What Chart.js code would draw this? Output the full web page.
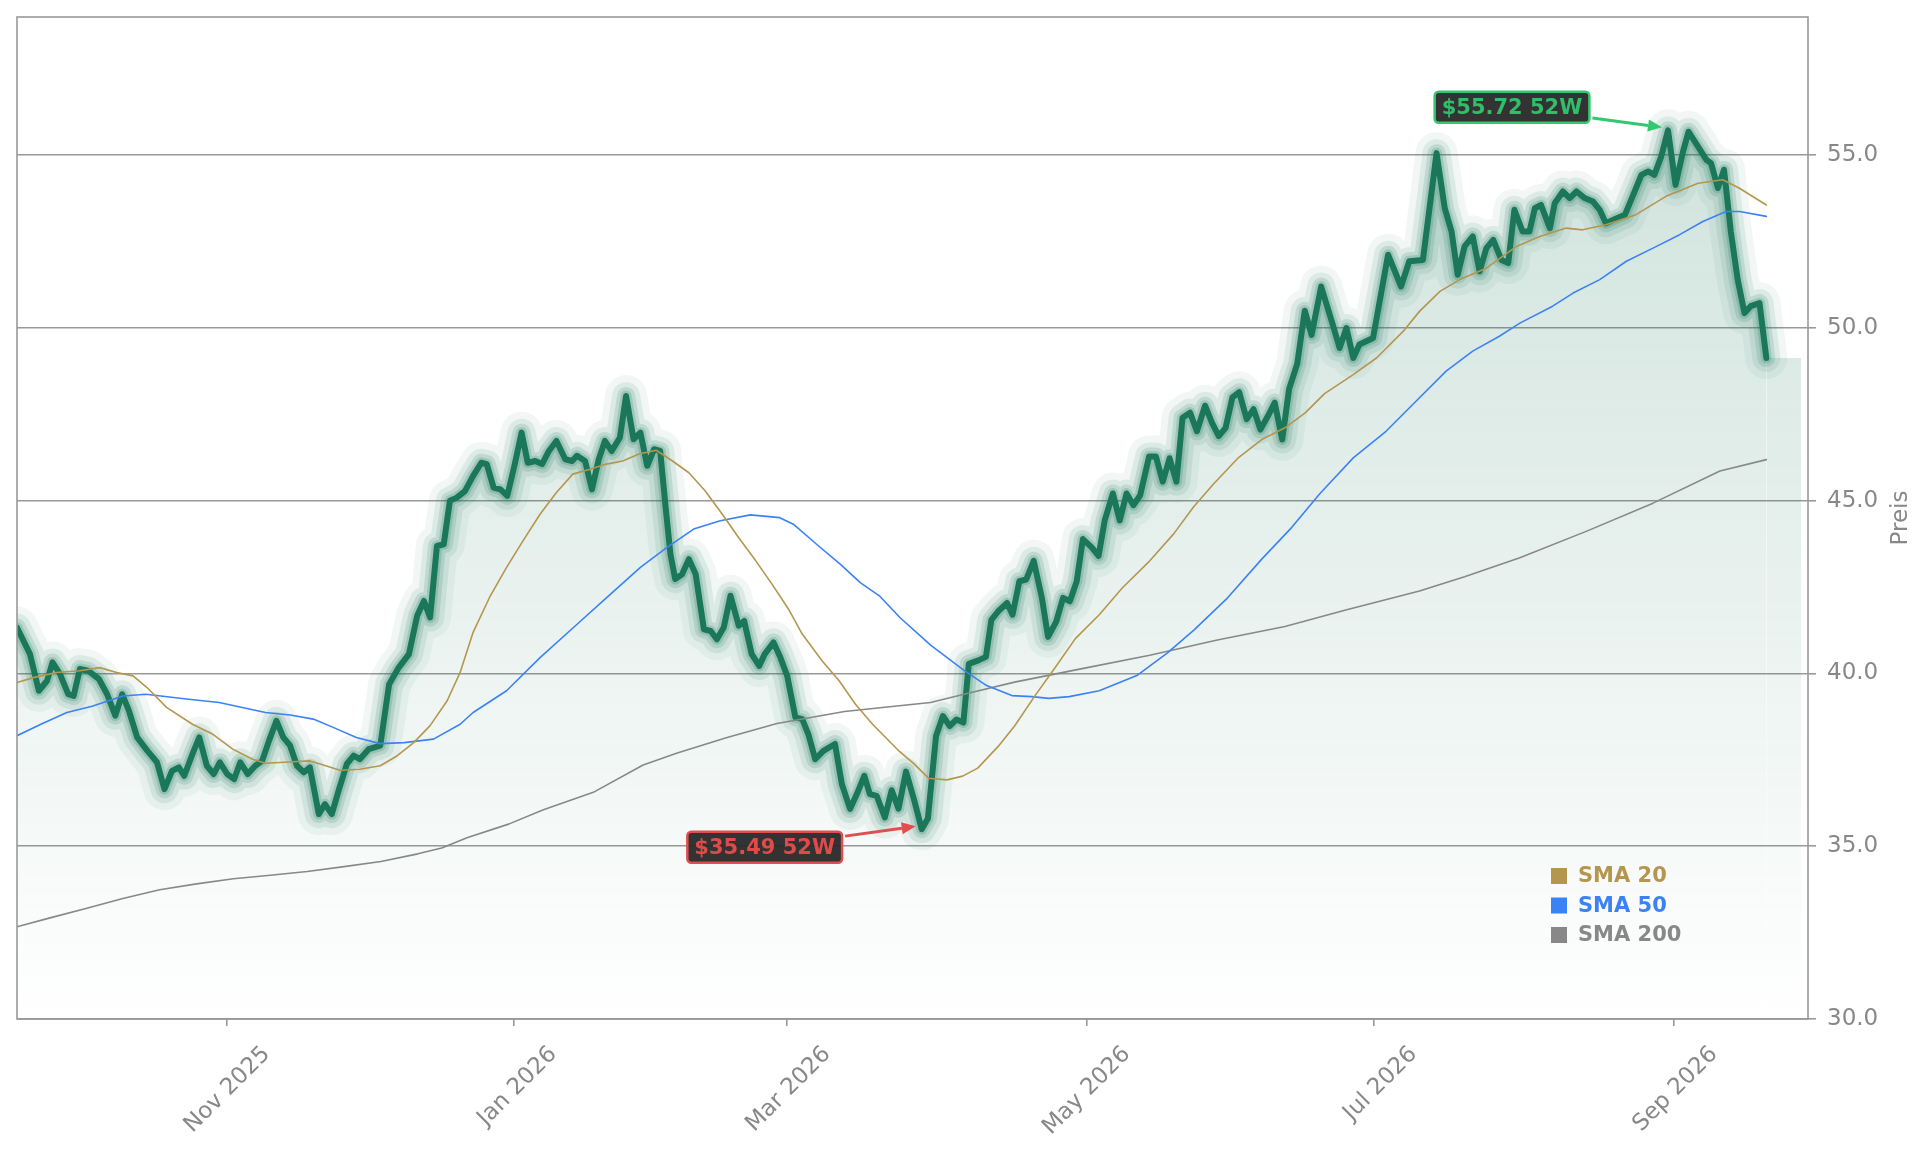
<!DOCTYPE html>
<html lang="de">
<head>
<meta charset="utf-8">
<title>Kursverlauf mit SMA</title>
<script src="https://cdn.jsdelivr.net/npm/chart.js@4.4.1/dist/chart.umd.min.js"></script>
<style>
  html, body { margin: 0; padding: 0; background: #ffffff; }
  #price-chart { display: block; }
</style>
</head>
<body>
<canvas id="price-chart" width="1929" height="1153"></canvas>
<script>
/* ============================================
   Price chart — close, SMA 20 / 50 / 200, 52W high & low
   x values are trading-day positions from the first close
   ============================================ */

// Close prices
const priceDays = [
  0, 1.9, 3.2, 4.4, 5.2, 6.3, 7.5, 8.3, 9.2, 10.4, 12.0, 13.2, 14.4, 15.4, 16.4, 17.6, 19.1, 20.5, 21.6, 22.7,
  23.7, 24.5, 25.6, 26.7, 27.8, 28.8, 29.7, 30.8, 31.8, 32.7, 33.8, 34.9, 35.9, 36.9, 38.0, 39.0, 40.0, 41.0, 42.0, 42.9,
  44.2, 45.1, 46.1, 47.1, 48.3, 49.3, 50.2, 51.5, 53.2, 54.5, 55.9, 57.4, 58.6, 59.6, 60.5, 61.5, 62.5, 63.4, 64.4, 65.6,
  66.8, 68.0, 68.8, 69.8, 70.8, 71.8, 72.9, 73.9, 74.8, 75.9, 76.9, 77.9, 79.0, 80.3, 81.3, 82.0, 83.2, 84.2, 85.2, 86.1,
  87.1, 88.3, 89.2, 90.3, 91.3, 92.3, 93.3, 94.2, 95.0, 95.7, 96.4, 97.4, 98.4, 99.4, 100.6, 101.6, 102.5, 103.5, 104.5, 105.7,
  106.5, 107.6, 108.7, 109.5, 110.8, 111.8, 112.8, 114.0, 115.0, 115.9, 116.9, 118.1, 119.8, 120.8, 122.0, 123.0, 124.1, 124.9, 125.9, 127.1,
  128.1, 129.1, 130.2, 131.4, 132.5, 133.4, 134.6, 135.6, 136.6, 137.6, 138.6, 139.4, 140.8, 141.9, 142.7, 143.7, 145.0, 145.8, 146.8, 147.8,
  148.9, 150.1, 151.0, 152.2, 153.2, 154.2, 155.2, 156.1, 157.4, 158.4, 159.3, 160.5, 161.5, 162.5, 163.5, 164.5, 165.8, 166.8, 167.8, 168.8,
  169.8, 170.7, 171.8, 172.8, 174.0, 175.0, 176.0, 177.0, 178.0, 179.0, 180.1, 181.1, 182.1, 183.2, 184.2, 185.3, 186.3, 187.5, 188.6, 189.6,
  191.0, 192.7, 193.7, 194.7, 195.7, 196.6, 198.6, 200.8, 202.7, 203.9, 205.9, 207.9, 209.1, 210.1, 211.0, 212.0, 213.2, 214.2, 215.2, 216.2,
  217.4, 218.4, 219.3, 220.5, 221.5, 222.3, 223.2, 224.5, 225.2, 226.4, 227.4, 228.4, 229.6, 230.8, 231.8, 232.7, 233.8, 235.5, 236.7, 237.9,
  238.9, 239.8, 240.8, 241.8, 242.9, 244.0, 244.8, 246.2, 247.4, 248.1, 249.1, 250.0, 251.0, 252.0, 253.0, 253.9, 255.2, 256.2
];
const closePrices = [
  41.33, 40.56, 39.5, 39.79, 40.32, 39.98, 39.4, 39.35, 40.13, 40.08, 39.84, 39.4, 38.78, 39.4, 38.92, 38.15, 37.76, 37.43, 36.65, 37.18,
  37.28, 37.04, 37.62, 38.15, 37.33, 37.09, 37.43, 37.09, 36.94, 37.43, 37.09, 37.33, 37.47, 38.05, 38.63, 38.15, 37.91, 37.33, 37.14, 37.28,
  35.93, 36.22, 35.93, 36.61, 37.38, 37.62, 37.52, 37.81, 37.91, 39.69, 40.17, 40.56, 41.67, 42.10, 41.62, 43.69, 43.74, 45.0, 45.09, 45.28,
  45.72, 46.10, 46.06, 45.38, 45.33, 45.14, 46.06, 46.97, 46.10, 46.15, 46.06, 46.44, 46.73, 46.20, 46.15, 46.30, 46.15, 45.33, 46.20, 46.73,
  46.44, 46.83, 48.03, 46.78, 46.97, 46.01, 46.49, 46.44, 44.80, 43.45, 42.73, 42.87, 43.31, 42.87, 41.28, 41.23, 40.99, 41.33, 42.25, 41.38,
  41.52, 40.56, 40.22, 40.56, 40.90, 40.46, 39.93, 38.73, 38.68, 38.24, 37.52, 37.76, 37.96, 36.80, 36.08, 36.51, 37.04, 36.51, 36.46, 35.83,
  36.62, 36.09, 37.16, 36.33, 35.49, 35.80, 38.19, 38.77, 38.48, 38.67, 38.58, 40.28, 40.38, 40.48, 41.55, 41.80, 42.04, 41.70, 42.67, 42.72,
  43.26, 42.19, 41.06, 41.50, 42.19, 42.09, 42.67, 43.89, 43.65, 43.40, 44.43, 45.21, 44.43, 45.21, 44.87, 45.16, 46.28, 46.28, 45.55, 46.23,
  45.55, 47.40, 47.55, 47.01, 47.75, 47.26, 46.87, 47.11, 47.99, 48.14, 47.36, 47.65, 47.06, 47.45, 47.84, 46.77, 48.23, 48.97, 50.5, 49.8,
  51.2, 50.10, 49.42, 50.0, 49.13, 49.52, 49.71, 52.12, 51.20, 51.93, 51.97, 55.06, 53.47, 52.79, 51.54, 52.36, 52.65, 51.64, 52.31, 52.55,
  51.97, 51.88, 53.42, 52.79, 52.79, 53.47, 53.56, 52.89, 53.61, 53.95, 53.76, 53.95, 53.76, 53.66, 53.42, 53.03, 53.13, 53.28, 53.85, 54.43,
  54.53, 54.43, 54.96, 55.72, 54.14, 55.11, 55.68, 55.25, 54.87, 54.77, 54.05, 54.58, 52.79, 51.40, 50.43, 50.63, 50.72, 49.13
];

// Moving averages
const sma20Days = [
  0, 2.4, 5.8, 9.2, 12.1, 14.6, 17.0, 19.0, 21.9, 25.7, 28.7, 31.6, 34.5, 36.4, 39.8, 42.9, 44.4, 47.3, 50.2, 53.2,
  55.7, 58.1, 60.5, 63.0, 64.9, 66.8, 69.2, 71.7, 74.1, 76.6, 79.0, 81.4, 83.9, 86.3, 88.7, 91.1, 93.6, 96.0, 98.4, 100.8,
  103.3, 105.7, 108.2, 110.6, 113.0, 115.0, 117.9, 120.4, 122.8, 125.3, 129.2, 131.3, 133.5, 136.2, 138.5, 140.7, 143.7, 146.1, 149.1, 152.1,
  155.0, 158.5, 161.9, 165.9, 169.4, 172.3, 175.3, 178.8, 182.3, 185.7, 188.7, 191.5, 195.7, 199.1, 203.0, 205.4, 208.4, 211.3, 215.2, 219.6,
  223.0, 226.9, 229.3, 232.7, 237.1, 241.5, 246.2, 249.8, 252.2, 256.2
];
const sma20Values = [
  39.74, 39.88, 40.03, 40.08, 40.17, 40.03, 39.93, 39.6, 39.02, 38.53, 38.24, 37.81, 37.52, 37.40, 37.44, 37.47, 37.38, 37.20, 37.23, 37.33,
  37.62, 38.0, 38.49, 39.21, 40.03, 41.19, 42.2, 43.07, 43.84, 44.61, 45.24, 45.77, 45.91, 46.06, 46.15, 46.35, 46.46, 46.15, 45.81, 45.28,
  44.61, 43.93, 43.26, 42.58, 41.86, 41.14, 40.37, 39.79, 39.11, 38.53, 37.75, 37.40, 36.97, 36.92, 37.03, 37.26, 37.89, 38.48, 39.36, 40.19,
  41.01, 41.70, 42.48, 43.26, 44.04, 44.82, 45.50, 46.23, 46.77, 47.11, 47.55, 48.1, 48.65, 49.13, 49.90, 50.48, 51.06, 51.40, 51.73, 52.36,
  52.65, 52.89, 52.84, 52.99, 53.28, 53.81, 54.19, 54.29, 54.05, 53.56
];
const sma50Days = [
  0, 3.5, 7.3, 11.0, 15.5, 18.9, 24.8, 29.6, 36.4, 40.0, 43.4, 46.3, 49.7, 53.2, 56.7, 61.0, 64.9, 66.8, 71.7, 76.6,
  81.5, 86.4, 91.3, 95.2, 99.1, 103.0, 107.4, 111.7, 113.7, 117.1, 120.6, 123.5, 126.4, 129.3, 133.8, 138.7, 142.0, 145.7, 148.6, 151.1,
  154.1, 158.5, 164.0, 168.4, 172.4, 177.3, 182.3, 186.7, 190.8, 195.7, 200.5, 205.4, 209.3, 213.2, 217.1, 220.1, 224.9, 227.9, 231.8, 235.7,
  239.6, 243.5, 246.9, 250.3, 252.3, 256.2
];
const sma50Values = [
  38.20, 38.53, 38.87, 39.05, 39.35, 39.40, 39.26, 39.16, 38.87, 38.80, 38.68, 38.44, 38.15, 37.97, 38.0, 38.10, 38.53, 38.87, 39.50, 40.46,
  41.33, 42.20, 43.07, 43.65, 44.18, 44.42, 44.59, 44.51, 44.32, 43.74, 43.16, 42.63, 42.23, 41.62, 40.82, 40.09, 39.65, 39.36, 39.33, 39.28,
  39.33, 39.50, 39.94, 40.58, 41.26, 42.19, 43.31, 44.23, 45.2, 46.24, 47.01, 47.98, 48.75, 49.33, 49.76, 50.14, 50.63, 51.01, 51.40, 51.93,
  52.31, 52.70, 53.08, 53.37, 53.37, 53.23
];
const sma200Days = [
  0, 4.7, 10.1, 15.5, 20.9, 26.3, 31.7, 37.1, 42.5, 47.9, 53.3, 58.7, 62.2, 66.0, 72.0, 77.0, 84.4, 91.7, 96.7, 104.0,
  111.3, 121.2, 126.4, 133.8, 138.7, 146.1, 156.0, 165.9, 175.8, 185.7, 194.6, 205.4, 212.0, 220.1, 229.9, 239.6, 249.4, 256.2
];
const sma200Values = [
  32.67, 32.92, 33.20, 33.49, 33.74, 33.91, 34.06, 34.16, 34.27, 34.41, 34.56, 34.78, 34.95, 35.25, 35.64, 36.05, 36.56, 37.35, 37.70, 38.15,
  38.55, 38.90, 39.01, 39.16, 39.40, 39.75, 40.14, 40.53, 40.97, 41.36, 41.84, 42.39, 42.80, 43.35, 44.12, 44.93, 45.86, 46.19
];

// Axis ticks
const monthTickDays = [30.7, 72.7, 112.8, 156.7, 198.7, 242.7];
const monthTickLabels = ['Nov 2025', 'Jan 2026', 'Mar 2026', 'May 2026', 'Jul 2026', 'Sep 2026'];
const priceTicks = [30, 35, 40, 45, 50, 55];

// Look & feel
const FONT = "'DejaVu Sans', 'Liberation Sans', sans-serif";
const TEXT_GRAY = '#888888';
const GRID_GRAY = '#999999';
const PRICE_GREEN = '#1b775a';
const SMA_COLORS = { sma20: '#b5964f', sma50: '#3b82f6', sma200: '#888888' };
const X_END = 262.3;     // right edge of the plot, in trading days
const FILL_TAIL_END = 261.3;

function toPoints(days, values) {
  return days.map((d, i) => ({ x: d, y: values[i] }));
}

const pricePoints = toPoints(priceDays, closePrices);
const lastClose = closePrices[closePrices.length - 1];
const lastDay = priceDays[priceDays.length - 1];

// Vertical gradient under the close line
function areaGradient(context) {
  const chart = context.chart;
  const area = chart.chartArea;
  if (!area) return 'rgba(27,119,90,0.1)';
  const g = chart.ctx.createLinearGradient(0, area.top, 0, area.bottom);
  g.addColorStop(0, 'rgba(27,119,90,0.23)');
  g.addColorStop(1, 'rgba(27,119,90,0.0)');
  return g;
}

// Halo around the close line: stacked wide translucent strokes
function glowLayer(width, alpha, order) {
  return {
    data: pricePoints,
    borderColor: `rgba(27,119,90,${alpha})`,
    borderWidth: width,
    fill: false,
    order: order
  };
}

// Plot frame on top of the fill
const framePlugin = {
  id: 'plotFrame',
  afterDatasetsDraw(chart) {
    const { ctx, chartArea: a } = chart;
    ctx.save();
    ctx.strokeStyle = GRID_GRAY;
    ctx.lineWidth = 1.6;
    ctx.strokeRect(a.left, a.top, a.right - a.left, a.bottom - a.top);
    ctx.restore();
  }
};

// 52W high / low labels with arrows
function drawMarker(chart, day, price, dx, dy, textColor, edgeColor) {
  const { ctx, scales } = chart;
  const px = scales.x.getPixelForValue(day);
  const py = scales.y.getPixelForValue(price);
  const label = '$' + price.toFixed(2) + ' 52W';

  ctx.save();
  ctx.font = `bold 21px ${FONT}`;
  const w = ctx.measureText(label).width + 14;
  const h = 31;
  const cx = px + dx;
  const cy = py + dy;

  // arrow from box centre towards the point, starting just outside the box
  const tipX = px - 6, tipY = py - 3;
  const sx = cx + w / 2 + 3;
  const sy = cy + (tipY - cy) * (sx - cx) / (tipX - cx);
  const ang = Math.atan2(tipY - sy, tipX - sx);
  const headLen = 14, headHalf = 6;
  const baseX = tipX - headLen * Math.cos(ang);
  const baseY = tipY - headLen * Math.sin(ang);
  ctx.strokeStyle = edgeColor;
  ctx.fillStyle = edgeColor;
  ctx.lineWidth = 3;
  ctx.beginPath();
  ctx.moveTo(sx, sy);
  ctx.lineTo(baseX, baseY);
  ctx.stroke();
  ctx.beginPath();
  ctx.moveTo(tipX, tipY);
  ctx.lineTo(baseX + headHalf * Math.sin(ang), baseY - headHalf * Math.cos(ang));
  ctx.lineTo(baseX - headHalf * Math.sin(ang), baseY + headHalf * Math.cos(ang));
  ctx.closePath();
  ctx.fill();

  // box
  ctx.beginPath();
  ctx.roundRect(cx - w / 2, cy - h / 2, w, h, 4);
  ctx.fillStyle = 'rgba(40,40,40,0.95)';
  ctx.fill();
  ctx.lineWidth = 2.5;
  ctx.strokeStyle = edgeColor;
  ctx.stroke();

  ctx.fillStyle = textColor;
  ctx.textAlign = 'center';
  ctx.textBaseline = 'middle';
  ctx.fillText(label, cx, cy + 1);
  ctx.restore();
}

const extremesPlugin = {
  id: 'extremes',
  afterDraw(chart) {
    const hi = Math.max(...closePrices);
    const lo = Math.min(...closePrices);
    drawMarker(chart, priceDays[closePrices.indexOf(hi)], hi, -156, -23, '#2fbf6a', '#34c76f');
    drawMarker(chart, priceDays[closePrices.indexOf(lo)], lo, -157, 18, '#e24a4a', '#e04e4e');
  }
};

// Legend box bottom right + right axis title
const legendItems = [
  { label: 'SMA 20', color: SMA_COLORS.sma20 },
  { label: 'SMA 50', color: SMA_COLORS.sma50 },
  { label: 'SMA 200', color: SMA_COLORS.sma200 }
];

const overlayPlugin = {
  id: 'overlayText',
  afterDraw(chart) {
    const { ctx, chartArea: a } = chart;
    ctx.save();
    ctx.font = `bold 21px ${FONT}`;
    ctx.textAlign = 'left';
    ctx.textBaseline = 'middle';
    legendItems.forEach((item, i) => {
      const y = a.bottom - 143 + i * 29.5;
      ctx.fillStyle = item.color;
      ctx.fillRect(a.right - 257, y - 8, 16, 16);
      ctx.fillText(item.label, a.right - 230, y + 1);
    });

    ctx.translate(a.right + 93, (a.top + a.bottom) / 2);
    ctx.rotate(-Math.PI / 2);
    ctx.font = `23px ${FONT}`;
    ctx.fillStyle = TEXT_GRAY;
    ctx.textAlign = 'center';
    ctx.fillText('Preis', 0, 0);
    ctx.restore();
  }
};

new Chart(document.getElementById('price-chart'), {
  type: 'line',
  data: {
    datasets: [
      { data: toPoints(sma20Days, sma20Values), borderColor: SMA_COLORS.sma20, borderWidth: 1.6, fill: false, order: 1 },
      { data: toPoints(sma50Days, sma50Values), borderColor: SMA_COLORS.sma50, borderWidth: 1.6, fill: false, order: 2 },
      { data: toPoints(sma200Days, sma200Values), borderColor: SMA_COLORS.sma200, borderWidth: 1.6, fill: false, order: 3 },
      { data: pricePoints, borderColor: PRICE_GREEN, borderWidth: 6, fill: false, order: 4 },
      glowLayer(11, 0.2, 5),
      glowLayer(18, 0.15, 6),
      glowLayer(28, 0.1, 7),
      glowLayer(42, 0.06, 8),
      { data: pricePoints, borderColor: 'transparent', borderWidth: 0, fill: 'start', backgroundColor: areaGradient, order: 9 },
      { data: [{ x: lastDay, y: lastClose }, { x: FILL_TAIL_END, y: lastClose }], borderColor: 'transparent', borderWidth: 0, fill: 'start', backgroundColor: areaGradient, order: 10 }
    ]
  },
  options: {
    responsive: false,
    devicePixelRatio: 1,
    animation: false,
    layout: { padding: { left: 17, top: 17, right: 0, bottom: 0 } },
    elements: {
      point: { radius: 0 },
      line: { tension: 0, borderJoinStyle: 'round', borderCapStyle: 'round' }
    },
    plugins: {
      legend: { display: false },
      tooltip: { enabled: false }
    },
    scales: {
      x: {
        type: 'linear',
        min: 0,
        max: X_END,
        afterBuildTicks: (scale) => { scale.ticks = monthTickDays.map(v => ({ value: v })); },
        afterFit: (scale) => { scale.height = 134; scale.paddingLeft = 0; scale.paddingRight = 0; },
        border: { display: false },
        grid: { drawOnChartArea: false, drawTicks: true, tickLength: 7, color: GRID_GRAY, lineWidth: 1.6 },
        ticks: {
          autoSkip: false,
          minRotation: 45,
          maxRotation: 45,
          labelOffset: 40,
          padding: 15,
          color: TEXT_GRAY,
          font: { family: FONT, size: 23 },
          callback: (value, index) => monthTickLabels[index]
        }
      },
      y: {
        type: 'linear',
        position: 'right',
        min: 30,
        max: 59,
        afterBuildTicks: (scale) => { scale.ticks = priceTicks.map(v => ({ value: v })); },
        afterFit: (scale) => { scale.width = 121; scale.paddingTop = 0; scale.paddingBottom = 0; },
        border: { display: false },
        grid: { color: GRID_GRAY, lineWidth: 1.6, tickLength: 8 },
        ticks: {
          padding: 11,
          color: TEXT_GRAY,
          font: { family: FONT, size: 23 },
          callback: (value) => Number(value).toFixed(1)
        }
      }
    }
  },
  plugins: [framePlugin, extremesPlugin, overlayPlugin]
});
</script>
</body>
</html>
